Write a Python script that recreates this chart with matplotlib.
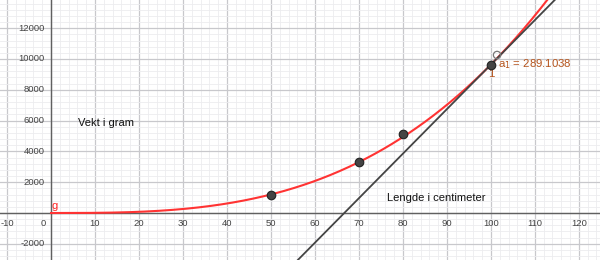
import numpy as np
import matplotlib
matplotlib.use("Agg")
import matplotlib.pyplot as plt
from matplotlib.ticker import MultipleLocator

plt.rcParams["font.family"] = ["Liberation Sans", "DejaVu Sans"]

# Data
lengths = [50, 70, 80, 100]          # cm
weights = [1200, 3300, 5100, 9637]   # gram
coef_a = 0.0096368                   # power model g(x) = a * x^3
power_b = 3
slope = 289.1038                     # tangent slope at x = 100
x_ticks = [-10, 0, 10, 20, 30, 40, 50, 60, 70, 80, 90, 100, 110, 120]
y_ticks = [-2000, 0, 2000, 4000, 6000, 8000, 10000, 12000]

xmin, xmax = -11.6, 124.8
ymin, ymax = -3052, 13831

fig = plt.figure(figsize=(6, 2.6), dpi=100)
ax = fig.add_axes([0, 0, 1, 1])
ax.set_xlim(xmin, xmax)
ax.set_ylim(ymin, ymax)

# grid
ax.xaxis.set_major_locator(MultipleLocator(10))
ax.xaxis.set_minor_locator(MultipleLocator(2))
ax.yaxis.set_major_locator(MultipleLocator(2000))
ax.yaxis.set_minor_locator(MultipleLocator(400))
ax.grid(which="major", color="#c8c8cc", lw=0.9)
ax.grid(which="minor", color="#ececef", lw=0.6)
ax.set_axisbelow(True)
ax.tick_params(which="both", length=0, labelbottom=False, labelleft=False)
for s in ax.spines.values():
    s.set_visible(False)

# axes lines
ax.axhline(0, color="#606060", lw=1.0, zorder=2)
ax.axvline(0, color="#606060", lw=1.0, zorder=2)

# tick labels
tick_kw = dict(fontsize=6.8, color="#444444")
for xt in x_ticks:
    if xt == 0:
        ax.text(xt - 1.7, -700, "0", ha="center", va="center", **tick_kw)
    else:
        ax.text(xt, -700, str(xt), ha="center", va="center", **tick_kw)
for yt in y_ticks:
    if yt == 0:
        continue
    ax.text(-1.4, yt, str(yt), ha="right", va="center", **tick_kw)

# model curve
xs = np.linspace(0, xmax, 600)
ax.plot(xs, coef_a * xs ** power_b, color="#ff3333", lw=1.5, zorder=3)

# tangent line
x0 = lengths[-1]
y0 = coef_a * x0 ** power_b
xt_line = np.array([xmin, xmax])
ax.plot(xt_line, y0 + slope * (xt_line - x0), color="#444444", lw=1.3, zorder=3)

# points
ax.scatter(lengths, weights, s=38, color="#444444", edgecolor="#222222",
           linewidth=0.8, zorder=5)
# hollow marker
ax.scatter([101.4], [10260], s=28, facecolor="none", edgecolor="#777777",
           linewidth=0.9, zorder=5)

# labels
brown = "#b5541c"
ax.text(101.7, 9700, r"a$_1$ = 289.1038", color=brown, fontsize=8.2,
        ha="left", va="center")
ax.text(100.0, 9000, "1", color=brown, fontsize=8.2, ha="center", va="center")
ax.text(0.9, 150, "g", color="#ff2222", fontsize=8, ha="center", va="bottom")
ax.text(12.5, 5844, "Vekt i gram", fontsize=8, ha="center", va="center", color="#111111")
ax.text(76.4, 974, "Lengde i centimeter", fontsize=8, ha="left", va="center", color="#111111")

fig.savefig("out.png", dpi=100)
